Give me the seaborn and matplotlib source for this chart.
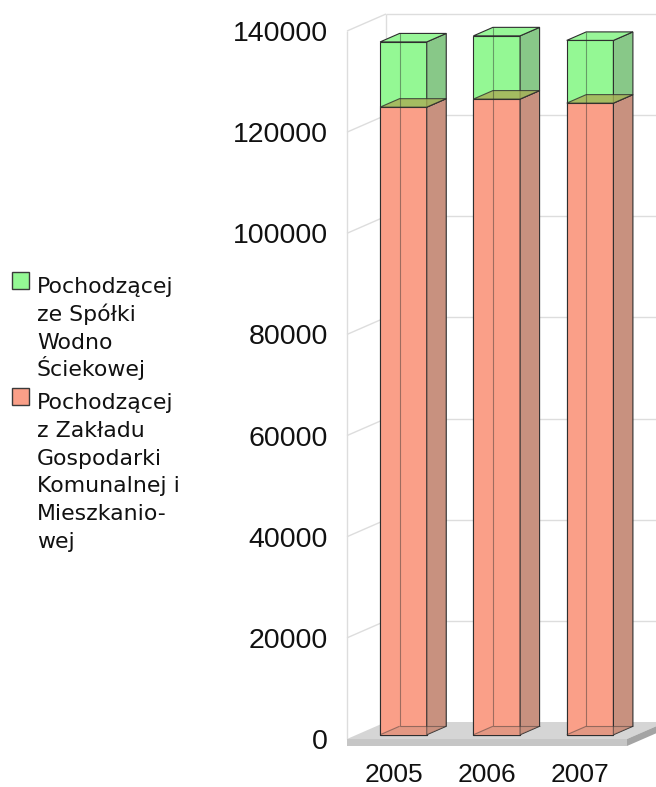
import numpy as np
import pandas as pd
import matplotlib
matplotlib.use("Agg")
import matplotlib.pyplot as plt
from matplotlib.patches import Polygon, Rectangle
from matplotlib.transforms import Affine2D
import seaborn as sns

# ---- data -------------------------------------------------------------
years = ["2005", "2006", "2007"]
zgkim = [124100, 125700, 124900]      # z Zakładu Gospodarki Komunalnej i Mieszkaniowej
sws = [12900, 12500, 12400]           # ze Spółki Wodno Ściekowej
yticks = [0, 20000, 40000, 60000, 80000, 100000, 120000, 140000]
legend_labels = [
    ["Pochodzącej", "ze Spółki", "Wodno", "Ściekowej"],
    ["Pochodzącej", "z Zakładu", "Gospodarki", "Komunalnej i", "Mieszkanio-", "wej"],
]

df = pd.DataFrame({"rok": years, "zgkim": zgkim, "sws": sws})
df["razem"] = df["zgkim"] + df["sws"]

# ---- style ------------------------------------------------------------
sns.set_theme(style="white")
plt.rcParams["font.family"] = ["DejaVu Sans"]

RED = "#FA9F88"
RED_SIDE = "#C8917F"
GREEN = "#94F894"
GREEN_SIDE = "#88C888"
GREEN_TOP = "#98F698"
OLIVE = "#A9AE55"
EDGE = "#2E2E2E"
GRID = "#DDDDDD"
NUM_FONT = "Liberation Sans"

W, H = 656, 787
fig = plt.figure(figsize=(W / 100, H / 100), dpi=100)
fig.patch.set_facecolor("white")

# front plane of the 3-D box, in pixels
L, R, B, T = 347, 627, 739, 31
ax = fig.add_axes([L / W, 1 - B / H, (R - L) / W, (B - T) / H])
ymax = yticks[-1]

# depth vector of the box (pixels, right / up)
DEPTH_PX = (39, 17)
px_x = (R - L) / len(years)
px_y = (B - T) / ymax
dX = DEPTH_PX[0] / px_x
dY = DEPTH_PX[1] / px_y


def P(x, y, d):
    """Project a point at depth d (0 = front, 1 = back wall) to data coords."""
    return (x + d * dX, y + d * dY)


def poly(pts, **kw):
    ax.add_patch(Polygon(pts, closed=True, clip_on=False, **kw))


def seg(p0, p1, **kw):
    ax.plot([p0[0], p1[0]], [p0[1], p1[1]], clip_on=False, solid_capstyle="butt", **kw)


# ---- front faces of the stacked bars (seaborn) ------------------------
sns.barplot(data=df, x="rok", y="razem", color=GREEN, saturation=1, width=0.5,
            edgecolor=EDGE, linewidth=0.8, ax=ax, zorder=4)
sns.barplot(data=df, x="rok", y="zgkim", color=RED, saturation=1, width=0.5,
            edgecolor=EDGE, linewidth=0.8, ax=ax, zorder=4)
ax.set_xlim(-0.5, len(years) - 0.5)
ax.set_ylim(0, ymax)

# push the front faces a quarter of the depth into the box
shift = Affine2D().translate(0.25 * dX, 0.25 * dY) + ax.transData
for p in list(ax.patches):
    p.set_transform(shift)
    p.set_clip_on(False)

# ---- walls and grid ---------------------------------------------------
x0, x1 = -0.5, len(years) - 0.5
for v in yticks[1:]:
    seg(P(x0, v, 0), P(x0, v, 1), color=GRID, lw=1, zorder=1)
    seg(P(x0, v, 1), P(x1, v, 1), color=GRID, lw=1, zorder=1)
seg(P(x0, 0, 0), P(x0, ymax, 0), color=GRID, lw=1, zorder=1)
seg(P(x0, 0, 1), P(x0, ymax, 1), color=GRID, lw=1, zorder=1)

# ---- floor -------------------------------------------------------------
thick = 7 / px_y
poly([P(x0, 0, 0), P(x1, 0, 0), P(x1, 0, 1), P(x0, 0, 1)], fc="#D5D5D5", ec="none", zorder=2)
poly([P(x0, 0, 0), P(x1, 0, 0), P(x1, -thick, 0), P(x0, -thick, 0)], fc="#C6C6C6", ec="none", zorder=2)
poly([P(x1, 0, 0), P(x1, 0, 1), P(x1, -thick, 1), P(x1, -thick, 0)], fc="#A4A4A4", ec="none", zorder=2)

# ---- remaining faces of each bar ----------------------------------------
hw = 0.25
d0, d1 = 0.25, 0.75
for i, (r, t) in enumerate(zip(df["zgkim"], df["razem"])):
    xl, xr = i - hw, i + hw
    # bottom face seen through the front
    poly([P(xl, 0, d0), P(xr, 0, d0), P(xr, 0, d1), P(xl, 0, d1)],
         fc=RED_SIDE, alpha=0.45, ec="none", zorder=5)
    # right side faces
    poly([P(xr, 0, d0), P(xr, 0, d1), P(xr, r, d1), P(xr, r, d0)],
         fc=RED_SIDE, ec=EDGE, lw=0.8, zorder=4)
    poly([P(xr, r, d0), P(xr, r, d1), P(xr, t, d1), P(xr, t, d0)],
         fc=GREEN_SIDE, ec=EDGE, lw=0.8, zorder=4)
    # top of the green block
    poly([P(xl, t, d0), P(xr, t, d0), P(xr, t, d1), P(xl, t, d1)],
         fc=GREEN_TOP, ec=EDGE, lw=0.8, zorder=4)
    # top of the red block, seen through the green one
    poly([P(xl, r, d0), P(xr, r, d0), P(xr, r, d1), P(xl, r, d1)],
         fc=OLIVE, alpha=0.8, ec=EDGE, lw=0.8, zorder=6)
    # hidden edges showing through the translucent faces
    kw = dict(color=EDGE, lw=0.8, alpha=0.45, zorder=6)
    seg(P(xl, 0, d1), P(xl, t, d1), **kw)
    seg(P(xl, 0, d0), P(xl, 0, d1), **kw)
    seg(P(xl, 0, d1), P(xr, 0, d1), **kw)

# ---- axes text ---------------------------------------------------------
for s in ax.spines.values():
    s.set_visible(False)
ax.set_facecolor("none")
ax.grid(False)
ax.set_xlabel("")
ax.set_ylabel("")
ax.set_yticks(yticks)
ax.set_yticklabels([str(v) for v in yticks])
ax.set_xticks(range(len(years)))
ax.set_xticklabels(years)
ax.tick_params(axis="both", labelfontfamily=NUM_FONT, labelcolor="#111111")
ax.tick_params(axis="y", length=0, pad=13.7, labelsize=20.5)
ax.tick_params(axis="x", length=0, pad=17, labelsize=19)

# ---- legend -------------------------------------------------------------
LINE = 27.8
legend_items = [(GREEN, 293, legend_labels[0]), ("#FA9F88", 409, legend_labels[1])]
for col, base, lines in legend_items:
    fig.patches.append(Rectangle((12 / W, 1 - (base - 4) / H), 17 / W, 17 / H,
                                 transform=fig.transFigure, fc=col, ec="#3A3A3A", lw=1))
    for k, line in enumerate(lines):
        fig.text(37 / W, 1 - (base + k * LINE) / H, line, ha="left", va="baseline",
                 fontsize=15.8, family="DejaVu Sans", color="#111111")

fig.savefig("out.png", dpi=100)
